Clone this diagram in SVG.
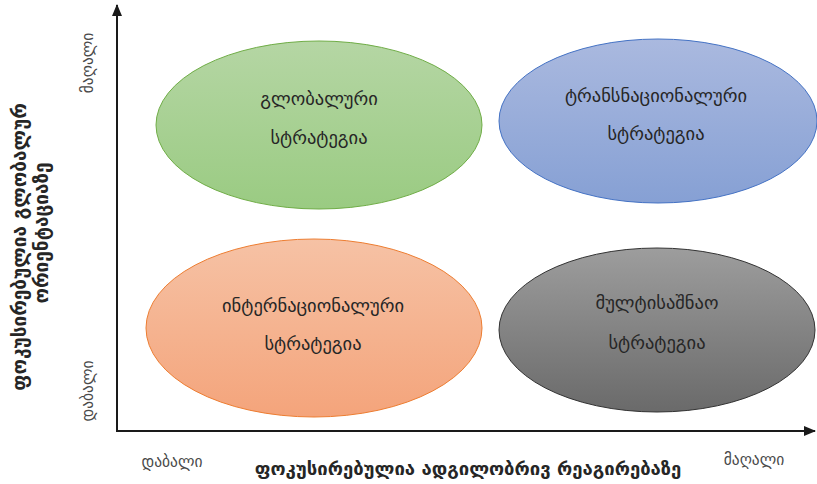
<svg xmlns="http://www.w3.org/2000/svg" width="817" height="484" viewBox="0 0 817 484">
<defs>
<linearGradient id="gGreen" x1="0" y1="0" x2="0" y2="1"><stop offset="0" stop-color="#b5d6a4"/><stop offset="1" stop-color="#9acb82"/></linearGradient>
<linearGradient id="gBlue" x1="0" y1="0" x2="0" y2="1"><stop offset="0" stop-color="#aab9df"/><stop offset="1" stop-color="#86a0d4"/></linearGradient>
<linearGradient id="gOrange" x1="0" y1="0" x2="0" y2="1"><stop offset="0" stop-color="#f6c2a5"/><stop offset="1" stop-color="#f4a47b"/></linearGradient>
<linearGradient id="gGray" x1="0" y1="0" x2="0" y2="1"><stop offset="0" stop-color="#9d9d9d"/><stop offset="1" stop-color="#6a6a6a"/></linearGradient>
<marker id="arr" viewBox="0 0 12 10" refX="11" refY="5" markerWidth="12" markerHeight="10" markerUnits="userSpaceOnUse" orient="auto"><path d="M0,0 L12,5 L0,10 Z" fill="#1a1a1a"/></marker>
</defs>
<style>
.lbl{font-family:"DejaVu Sans","Noto Sans",sans-serif;font-size:18.5px;fill:#262626;text-anchor:middle;dominant-baseline:central}
.ax{font-family:"DejaVu Sans","Noto Sans",sans-serif;font-size:18.5px;font-weight:bold;fill:#262626;text-anchor:middle;dominant-baseline:central}
.sm{font-family:"DejaVu Sans","Noto Sans",sans-serif;font-size:15.5px;fill:#4a4a4a;text-anchor:middle;dominant-baseline:central}
.axis{stroke:#1a1a1a;stroke-width:2;fill:none}
</style>
<rect width="817" height="484" fill="#ffffff"/>
<g id="connectors">
<path class="axis" d="M117,432 L117,5" marker-end="url(#arr)"/>
<path class="axis" d="M116,431 L815,431" marker-end="url(#arr)"/>
</g>
<g id="global">
<ellipse cx="319" cy="125" rx="163" ry="84" fill="url(#gGreen)" stroke="#70ad47" stroke-width="1"/>
<text class="lbl" x="319" y="98">გლობალური</text>
<text class="lbl" x="319" y="137">სტრატეგია</text>
</g>
<g id="transnational">
<ellipse cx="658" cy="121" rx="159" ry="82" fill="url(#gBlue)" stroke="#4472c4" stroke-width="1"/>
<text class="lbl" x="656" y="95">ტრანსნაციონალური</text>
<text class="lbl" x="656" y="133">სტრატეგია</text>
</g>
<g id="international">
<ellipse cx="314" cy="328" rx="168" ry="89" fill="url(#gOrange)" stroke="#ed7d31" stroke-width="1"/>
<text class="lbl" x="313" y="305">ინტერნაციონალური</text>
<text class="lbl" x="313" y="343">სტრატეგია</text>
</g>
<g id="multidomestic">
<ellipse cx="657" cy="330" rx="158" ry="82" fill="url(#gGray)" stroke="#333333" stroke-width="1"/>
<text class="lbl" x="657" y="302">მულტისაშნაო</text>
<text class="lbl" x="657" y="342">სტრატეგია</text>
</g>
<g id="axis-labels">
<text class="ax" x="468" y="468">ფოკუსირებულია ადგილობრივ რეაგირებაზე</text>
<text class="sm" x="172" y="462">დაბალი</text>
<text class="sm" x="754" y="460">მაღალი</text>
<text class="ax" style="font-size:19px" transform="translate(19,247) rotate(-90)">ფოკუსირებულია გლობალურ</text>
<text class="ax" style="font-size:19px" transform="translate(41,233) rotate(-90)">ორიენტაციაზე</text>
<text class="sm" transform="translate(88,63) rotate(-90)">მაღალი</text>
<text class="sm" transform="translate(88,391) rotate(-90)">დაბალი</text>
</g>
</svg>
